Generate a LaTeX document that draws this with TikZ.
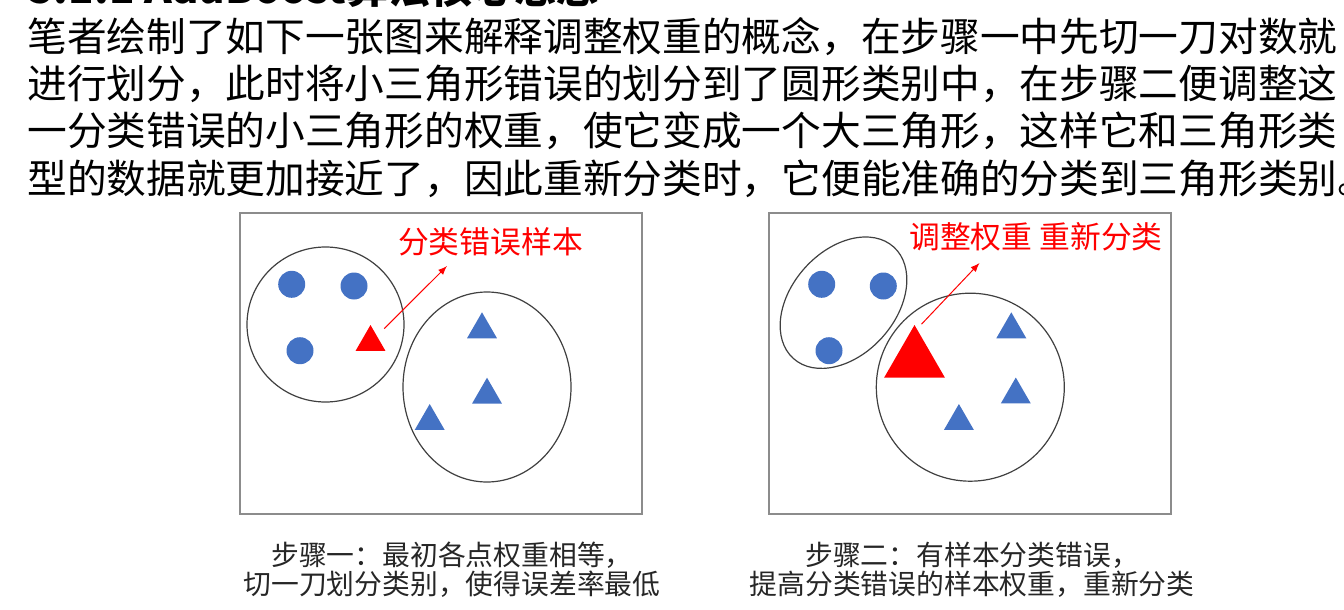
\documentclass[tikz,border=0pt]{standalone}
\usepackage{fontspec}
\setmainfont{Noto Sans CJK SC}
\usetikzlibrary{shapes.geometric,arrows.meta,positioning}
\definecolor{dotblue}{HTML}{4472C4}
\definecolor{wrong}{HTML}{FF0000}
\definecolor{frame}{HTML}{8C8C8C}
\definecolor{rim}{HTML}{404040}
\definecolor{capgray}{HTML}{262626}

\tikzset{
  heading/.style={anchor=base west, inner sep=0pt, font=\bfseries\fontsize{21}{24}\selectfont},
  bodytext/.style={anchor=base west, inner sep=0pt, font=\fontsize{19.85}{23.5}\selectfont},
  panel/.style={draw=frame, line width=0.75pt, minimum width=201pt, minimum height=150.5pt, inner sep=0pt},
  cluster/.style={draw=rim, line width=0.6pt, ellipse, inner sep=0pt},
  dot/.style={circle, fill=dotblue, minimum size=13.5pt, inner sep=0pt},
  tri/.style={regular polygon, regular polygon sides=3, fill=dotblue, minimum size=17.3pt, inner sep=0pt},
  wrongtri/.style={tri, fill=wrong},
  pointer/.style={draw=wrong, line width=0.5pt, -{Latex[length=4.5pt,width=3.5pt]}},
  tag/.style={text=wrong, font=\fontsize{15.4}{17}\selectfont, inner sep=0pt},
  steptext/.style={text=capgray, align=center, font=\fontsize{13.9}{14.5}\selectfont, inner sep=0pt}
}

\begin{document}
\begin{tikzpicture}[x=0.5pt,y=-0.5pt]
      \useasboundingbox (0,0) rectangle (1344,610);
      \clip (0,0) rectangle (1344,610);
      % text above the figure
      \node[heading] (title) at (28,3.5) {5.1.1 AdaBoost算法核心思想};
      \node[bodytext] (intro1) at (27,52) {笔者绘制了如下一张图来解释调整权重的概念，在步骤一中先切一刀对数就};
      \node[bodytext] (intro2) at (27,99) {进行划分，此时将小三角形错误的划分到了圆形类别中，在步骤二便调整这};
      \node[bodytext] (intro3) at (27,146) {一分类错误的小三角形的权重，使它变成一个大三角形，这样它和三角形类};
      \node[bodytext] (intro4) at (27,193) {型的数据就更加接近了，因此重新分类时，它便能准确的分类到三角形类别。};

      % step one
      \node[panel] (panel1) at (441,363.5) {};
      \node[cluster, minimum width=78.5pt, minimum height=77.5pt] (dots1) at (325.5,324.5) {};
      \node[cluster, minimum width=84pt, minimum height=95pt] (tris1) at (487,387) {};
      \node[dot] (dotA1) at (291.7,284.3) {};
      \node[dot] (dotB1) at (354,286) {};
      \node[dot] (dotC1) at (300,350.7) {};
      \node[wrongtri] (wrong1) at (370.5,342.3) {};
      \node[tri] (triA1) at (482,329.6) {};
      \node[tri] (triB1) at (487,395) {};
      \node[tri] (triC1) at (429.7,421.3) {};
      \coordinate (aim1) at (447,266);
      \draw[pointer, shorten <=5pt] (wrong1.north east) -- (aim1);
      \node[tag] (tag1) at (490.5,241.5) {分类错误样本};
      \node[steptext] (step1) at (452,570) {步骤一：最初各点权重相等，\\切一刀划分类别，使得误差率最低};

      % step two
      \node[panel] (panel2) at (970,363.5) {};
      \node[cluster, minimum width=75pt, minimum height=52pt, rotate=48] (dots2) at (843.5,302.7) {};
      \node[cluster, minimum size=94pt] (tris2) at (970.3,387.2) {};
      \node[dot] (dotA2) at (821.7,284.3) {};
      \node[dot] (dotB2) at (883.3,286) {};
      \node[dot] (dotC2) at (829,350.7) {};
      \node[wrongtri, minimum size=35pt] (wrong2) at (914.5,360) {};
      \node[tri] (triA2) at (1011.3,329.6) {};
      \node[tri] (triB2) at (1015.8,394.8) {};
      \node[tri] (triC2) at (958.9,421.3) {};
      \coordinate (aim2) at (979.5,263);
      \draw[pointer] ([xshift=3.5pt]wrong2.corner 1) -- (aim2);
      \node[tag] (tag2) at (1036,236.5) {调整权重 重新分类};
      \node[steptext] (step2) at (972,570) {步骤二：有样本分类错误，\\提高分类错误的样本权重，重新分类};
\end{tikzpicture}
\end{document}
